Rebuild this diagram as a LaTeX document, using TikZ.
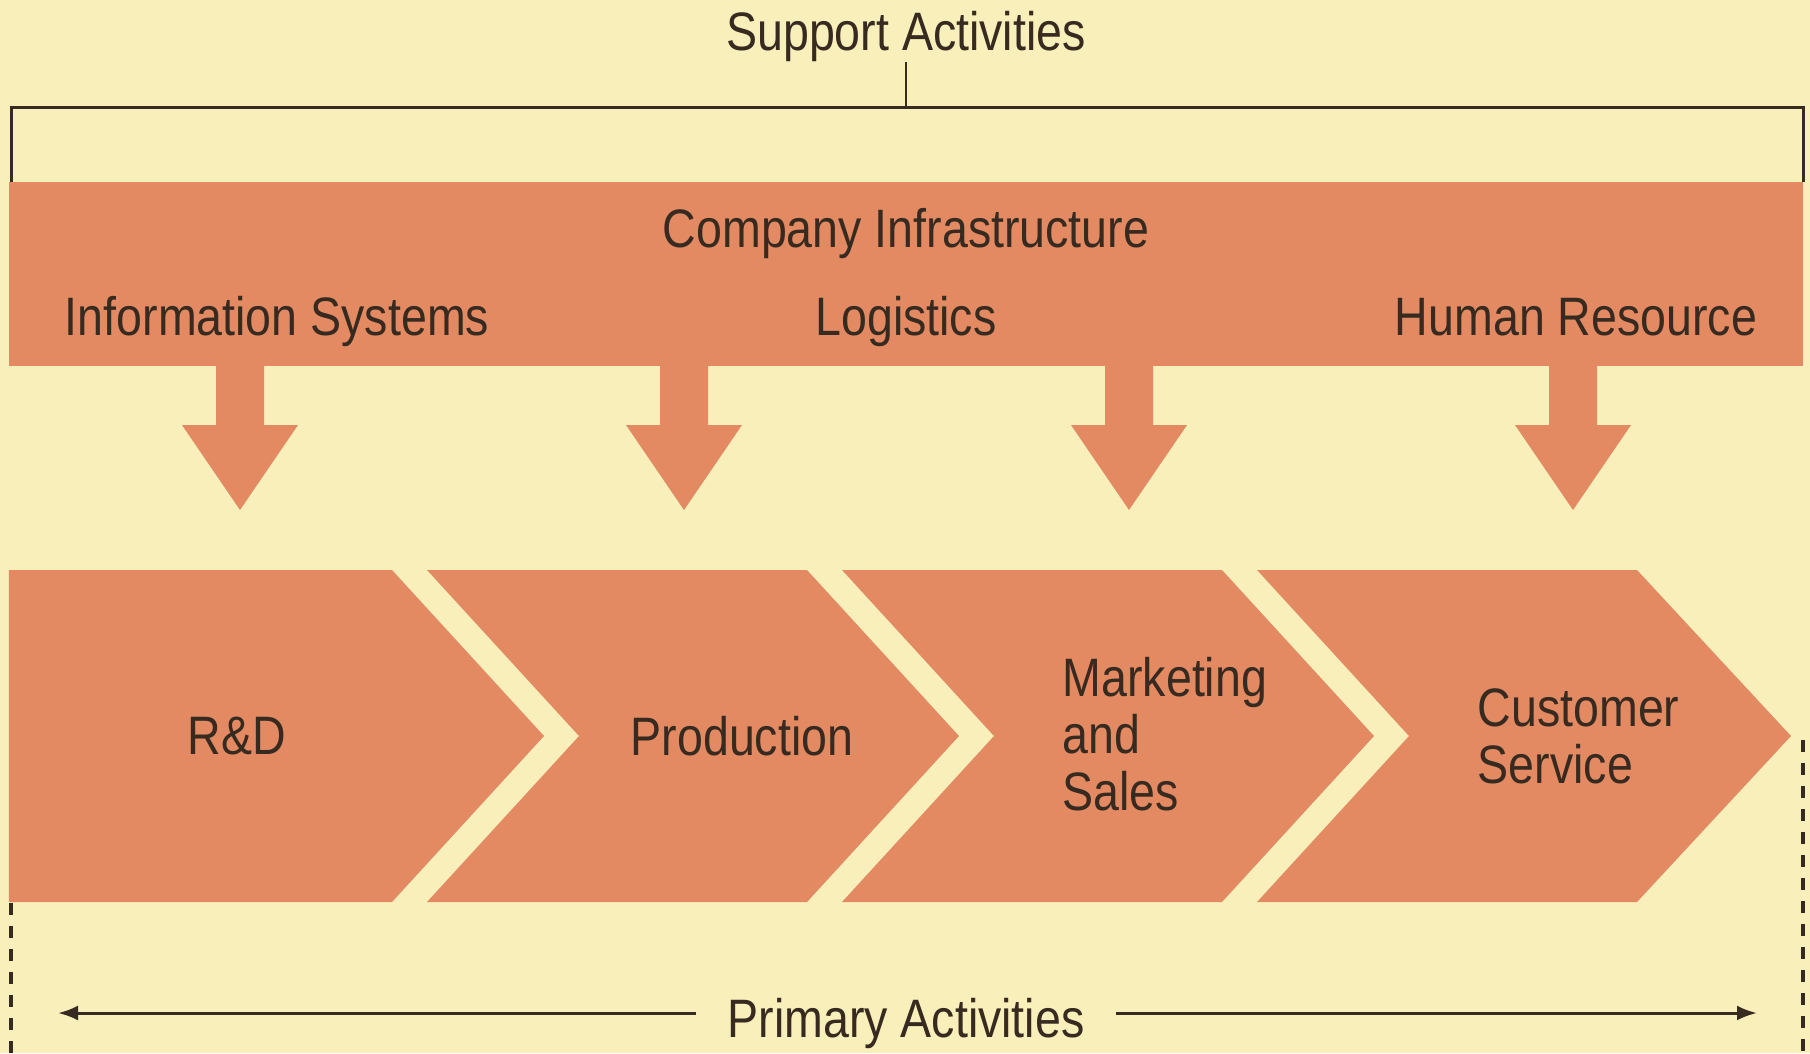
\documentclass[tikz,border=0pt]{standalone}
\usepackage{fontspec}
\setmainfont{Liberation Sans}[FakeStretch=0.86]
\usetikzlibrary{arrows.meta}

\definecolor{paper}{RGB}{248,239,186}
\definecolor{band}{RGB}{227,138,98}
\definecolor{ink}{RGB}{55,42,32}

\tikzset{
  lbl/.style={text=ink,inner sep=0pt,font=\fontsize{15.4}{16.2}\selectfont},
  rule/.style={draw=ink,line width=0.3mm},
  guide/.style={draw=ink,line width=0.35mm,dash pattern=on 1.2mm off 1.1mm},
}

\begin{document}
\begin{tikzpicture}[x=1cm,y=-1cm]

        \fill[paper] (0,0) rectangle (18.10,10.53);
        \useasboundingbox (0,0) rectangle (18.10,10.53);

        % support band and the arrows hanging from it
        \fill[band] (0.09,1.82) rectangle (18.03,3.66);
        \fill[band] (2.16,3.60) -- ++(0,0.65) -- ++(-0.34,0) -- ++(0.58,0.85) -- ++(0.58,-0.85) -- ++(-0.34,0) -- ++(0,-0.65) -- cycle;
        \fill[band] (6.60,3.60) -- ++(0,0.65) -- ++(-0.34,0) -- ++(0.58,0.85) -- ++(0.58,-0.85) -- ++(-0.34,0) -- ++(0,-0.65) -- cycle;
        \fill[band] (11.05,3.60) -- ++(0,0.65) -- ++(-0.34,0) -- ++(0.58,0.85) -- ++(0.58,-0.85) -- ++(-0.34,0) -- ++(0,-0.65) -- cycle;
        \fill[band] (15.49,3.60) -- ++(0,0.65) -- ++(-0.34,0) -- ++(0.58,0.85) -- ++(0.58,-0.85) -- ++(-0.34,0) -- ++(0,-0.65) -- cycle;

        % primary chain
        \fill[band] (0.09,5.70) -- (3.92,5.70) -- (5.44,7.36) -- (3.92,9.02) -- (0.09,9.02) -- cycle;
        \fill[band] (4.27,5.70) -- (8.07,5.70) -- (9.59,7.36) -- (8.07,9.02) -- (4.27,9.02) -- (5.79,7.36) -- cycle;
        \fill[band] (8.42,5.70) -- (12.22,5.70) -- (13.74,7.36) -- (12.22,9.02) -- (8.42,9.02) -- (9.94,7.36) -- cycle;
        \fill[band] (12.57,5.70) -- (16.37,5.70) -- (17.91,7.36) -- (16.37,9.02) -- (12.57,9.02) -- (14.09,7.36) -- cycle;

        \begin{scope}[every node/.style={lbl}]
          \node[anchor=base] (support)   at (9.06,0.50)  {Support Activities};
          \node[anchor=base] (infra)     at (9.06,2.47)  {Company Infrastructure};
          \node[anchor=base] (infosys)   at (2.77,3.35)  {Information Systems};
          \node[anchor=base] (logistics) at (9.06,3.35)  {Logistics};
          \node[anchor=base] (hr)        at (15.76,3.35) {Human Resource};
          \node (rnd)        at (2.37,7.36) {R\&D};
          \node (production) at (7.42,7.36) {Production};
          \node[anchor=west,align=left,font=\fontsize{15.4}{16.2}\selectfont] (marketing) at (10.62,7.34) {Marketing\\and\\Sales};
          \node[anchor=west,align=left,font=\fontsize{15.4}{16.2}\selectfont] (service)   at (14.77,7.36) {Customer\\Service};
          \node[anchor=base,inner xsep=3.1mm] (primary) at (9.06,10.37) {Primary Activities};
        \end{scope}

        \coordinate (brk) at (9.06,1.07);
        \coordinate (bl)  at (0.11,1.82);
        \coordinate (br)  at (18.03,1.82);
        \coordinate (pleft)  at (0.58,10.13);
        \coordinate (pright) at (17.57,10.13);
        \coordinate (dl) at (0.11,9.03);
        \coordinate (dlb) at (0.11,10.53);
        \coordinate (dr) at (18.03,7.40);
        \coordinate (drb) at (18.03,10.53);

        \draw[rule,line width=0.2mm] (support.south) -- (brk);
        \draw[rule] (bl) |- (brk) -| (br);
        \draw[rule,-{Latex[length=2mm,width=1.5mm]}] (primary.west |- pleft) -- (pleft);
        \draw[rule,-{Latex[length=2mm,width=1.5mm]}] (primary.east |- pright) -- (pright);
        \draw[guide] (dl) -- (dlb);
        \draw[guide] (dr) -- (drb);

      \end{tikzpicture}
\end{document}
